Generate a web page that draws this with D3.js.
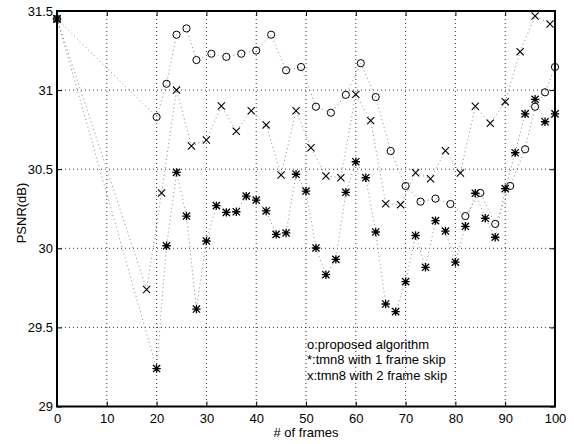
<!DOCTYPE html>
<html>
<head>
<meta charset="utf-8">
<script src="https://cdn.jsdelivr.net/npm/d3@7"></script>
<style>
  body { margin: 0; background: #fff; }
  text { font-family: "Liberation Sans", Arial, sans-serif; fill: #000; }
</style>
</head>
<body>
<svg id="chart" width="574" height="444"></svg>
<script>
// frames (x) and PSNR values
const framesProposed = [0, 20, 22, 24, 26, 28, 31, 34, 37, 40, 43, 46, 49, 52, 55, 58, 61, 64, 67, 70, 73, 76, 79, 82, 85, 88, 91, 94, 96, 98, 100];
const psnrProposed = [31.45, 30.83, 31.04, 31.35, 31.39, 31.19, 31.23, 31.21, 31.23, 31.25, 31.35, 31.125, 31.146, 30.895, 30.857, 30.97, 31.17, 30.956, 30.615, 30.394, 30.295, 30.314, 30.28, 30.204, 30.35, 30.154, 30.394, 30.626, 30.895, 30.986, 31.146];

const framesSkip1 = [0, 20, 22, 24, 26, 28, 30, 32, 34, 36, 38, 40, 42, 44, 46, 48, 50, 52, 54, 56, 58, 60, 62, 64, 66, 68, 70, 72, 74, 76, 78, 80, 82, 84, 86, 88, 90, 92, 94, 96, 98, 100];
const psnrSkip1 = [31.45, 29.24, 30.016, 30.48, 30.204, 29.616, 30.046, 30.27, 30.227, 30.231, 30.33, 30.305, 30.236, 30.088, 30.097, 30.468, 30.362, 30.002, 29.833, 29.93, 30.354, 30.547, 30.446, 30.103, 29.648, 29.6, 29.789, 30.081, 29.88, 30.175, 30.109, 29.912, 30.139, 30.348, 30.19, 30.07, 30.377, 30.604, 30.85, 30.942, 30.8, 30.85];

const framesSkip2 = [0, 18, 21, 24, 27, 30, 33, 36, 39, 42, 45, 48, 51, 54, 57, 60, 63, 66, 69, 72, 75, 78, 81, 84, 87, 90, 93, 96, 99];
const psnrSkip2 = [31.45, 29.74, 30.35, 31.0, 30.647, 30.685, 30.9, 30.74, 30.87, 30.78, 30.463, 30.87, 30.636, 30.457, 30.446, 30.973, 30.807, 30.282, 30.276, 30.478, 30.44, 30.617, 30.476, 30.898, 30.79, 30.927, 31.243, 31.468, 31.418];

const xTicks = [0, 10, 20, 30, 40, 50, 60, 70, 80, 90, 100];
const yTicks = [29, 29.5, 30, 30.5, 31, 31.5];
const legendLines = ["o:proposed algorithm", "*:tmn8 with 1 frame skip", "x:tmn8 with 2 frame skip"];

const svg = d3.select("#chart");
const plot = { left: 57, right: 555, top: 11, bottom: 406.5 };

const x = d3.scaleLinear().domain([0, 100]).range([plot.left, plot.right]);
const y = d3.scaleLinear().domain([29, 31.5]).range([plot.bottom, plot.top]);

// grid
const grid = svg.append("g").attr("stroke", "#000").attr("stroke-width", 0.8).attr("stroke-dasharray", "1,3");
grid.selectAll(".gx").data(xTicks.slice(1, -1)).enter().append("line")
  .attr("x1", d => x(d)).attr("x2", d => x(d))
  .attr("y1", plot.top).attr("y2", plot.bottom);
grid.selectAll(".gy").data(yTicks.slice(1, -1)).enter().append("line")
  .attr("y1", d => y(d)).attr("y2", d => y(d))
  .attr("x1", plot.left).attr("x2", plot.right);

const series = [
  { xs: framesProposed, ys: psnrProposed, mark: "o" },
  { xs: framesSkip1, ys: psnrSkip1, mark: "*" },
  { xs: framesSkip2, ys: psnrSkip2, mark: "x" },
];

const line = d3.line().x(d => x(d[0])).y(d => y(d[1]));

// dotted connecting lines
series.forEach(s => {
  const pts = s.xs.map((f, i) => [f, s.ys[i]]);
  svg.append("path")
    .datum(pts)
    .attr("d", line)
    .attr("fill", "none")
    .attr("stroke", "#8a8a8a")
    .attr("stroke-width", 1)
    .attr("stroke-dasharray", "1,3");
});

// marker shapes
const r = 3.6;
function markPath(m) {
  if (m === "x") return `M${-r},${-r}L${r},${r}M${-r},${r}L${r},${-r}`;
  if (m === "*") return `M${-r},${-r}L${r},${r}M${-r},${r}L${r},${-r}M0,${-r - 0.6}L0,${r + 0.6}M${-r - 0.6},0L${r + 0.6},0`;
  return null;
}

series.forEach(s => {
  const pts = s.xs.map((f, i) => [f, s.ys[i]]);
  const g = svg.append("g");
  if (s.mark === "o") {
    g.selectAll("circle").data(pts).enter().append("circle")
      .attr("cx", d => x(d[0])).attr("cy", d => y(d[1]))
      .attr("r", r).attr("fill", "none").attr("stroke", "#000").attr("stroke-width", 1);
  } else {
    g.selectAll("path").data(pts).enter().append("path")
      .attr("transform", d => `translate(${x(d[0])},${y(d[1])})`)
      .attr("d", markPath(s.mark))
      .attr("fill", "none").attr("stroke", "#000")
      .attr("stroke-width", s.mark === "*" ? 1.3 : 1.1);
  }
});

// axes (ticks inside)
const axisFont = 13;
const xAxis = d3.axisBottom(x).tickValues(xTicks).tickSizeInner(-5).tickSizeOuter(0).tickPadding(7).tickFormat(d3.format("d"));
const yAxis = d3.axisLeft(y).tickValues(yTicks).tickSizeInner(-5).tickSizeOuter(0).tickPadding(4).tickFormat(d => String(d));
const xTop = d3.axisTop(x).tickValues(xTicks).tickSizeInner(-5).tickSizeOuter(0).tickFormat("");
const yRight = d3.axisRight(y).tickValues(yTicks).tickSizeInner(-5).tickSizeOuter(0).tickFormat("");

[
  [xAxis, `translate(0,${plot.bottom})`],
  [yAxis, `translate(${plot.left},0)`],
  [xTop, `translate(0,${plot.top})`],
  [yRight, `translate(${plot.right},0)`],
].forEach(([ax, tr]) => {
  const g = svg.append("g").attr("transform", tr).call(ax);
  g.select(".domain").remove();
  g.selectAll(".tick line").attr("stroke", "#000").attr("stroke-width", 1);
  g.selectAll(".tick text").attr("font-size", axisFont).attr("font-family", "Liberation Sans, Arial, sans-serif").attr("fill", "#000");
});

// box
svg.append("rect")
  .attr("x", plot.left).attr("y", plot.top)
  .attr("width", plot.right - plot.left).attr("height", plot.bottom - plot.top)
  .attr("fill", "none").attr("stroke", "#000").attr("stroke-width", 2);

// axis labels
svg.append("text")
  .attr("x", (plot.left + plot.right) / 2).attr("y", 437)
  .attr("text-anchor", "middle").attr("font-size", 13)
  .text("# of frames");

svg.append("text")
  .attr("transform", `translate(26,213) rotate(-90)`)
  .attr("text-anchor", "middle").attr("font-size", 13)
  .text("PSNR(dB)");

// legend text
svg.append("g").selectAll("text").data(legendLines).enter().append("text")
  .attr("x", 307).attr("y", (d, i) => 348.5 + i * 15.7)
  .attr("font-size", 13)
  .text(d => d);
</script>
</body>
</html>
